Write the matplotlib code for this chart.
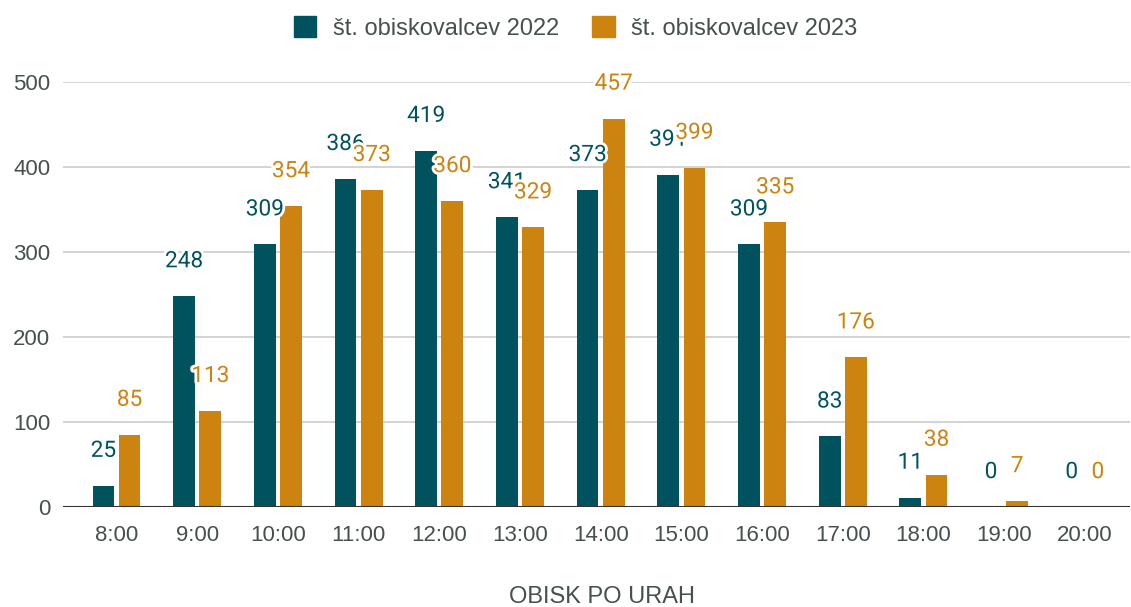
import matplotlib.pyplot as plt
import matplotlib.patheffects as pe
from matplotlib.patches import Patch
import numpy as np

hours = ["8:00", "9:00", "10:00", "11:00", "12:00", "13:00", "14:00",
         "15:00", "16:00", "17:00", "18:00", "19:00", "20:00"]
visitors_2022 = [25, 248, 309, 386, 419, 341, 373, 391, 309, 83, 11, 0, 0]
visitors_2023 = [85, 113, 354, 373, 360, 329, 457, 399, 335, 176, 38, 7, 0]
series_names = ["št. obiskovalcev 2022", "št. obiskovalcev 2023"]
colors = ["#00535E", "#CD8310"]
text_color = "#46504f"

fig = plt.figure(figsize=(11.31, 6.07), dpi=100)
ax = fig.add_axes([63 / 1131, 1 - 507 / 607, (1130 - 63) / 1131, 425 / 607])

x = np.arange(len(hours))
w = 0.27
off = 0.162
for i, (vals, c) in enumerate(zip([visitors_2022, visitors_2023], colors)):
    ax.bar(x + (2 * i - 1) * off, vals, width=w, color=c, zorder=3)

# value labels (2022 first, 2023 on top)
for i, (vals, c) in enumerate(zip([visitors_2022, visitors_2023], colors)):
    for xi, v in zip(x, vals):
        ax.annotate(str(v), (xi + (2 * i - 1) * off, v), xytext=(0, 25.5),
                    textcoords="offset points", ha="center", va="center",
                    fontsize=16.3, color=c, family="Roboto", zorder=5 + i,
                    annotation_clip=False,
                    path_effects=[pe.withStroke(linewidth=4, foreground="white")])

ax.set_xlim(-0.663, 12.56)
ax.set_ylim(0, 500)
ax.set_yticks(range(0, 501, 100))
ax.set_xticks(x)
ax.set_xticklabels(hours)
ax.grid(axis="y", color="#cccccc", linewidth=1.2, zorder=0)
ax.axhline(0, color="#333333", linewidth=1.5, zorder=4)
for s in ax.spines.values():
    s.set_visible(False)
ax.tick_params(axis="both", length=0, labelsize=16, labelcolor=text_color)
ax.tick_params(axis="x", pad=13)
ax.tick_params(axis="y", pad=9)
for lab in ax.get_xticklabels() + ax.get_yticklabels():
    lab.set_family("Liberation Sans")

fig.text(0.5325, 1 - 597 / 607, "OBISK PO URAH", ha="center", va="center",
         fontsize=17, color=text_color, family="Liberation Sans")

handles = [Patch(facecolor=c, edgecolor=c) for c in colors]
leg = fig.legend(handles, series_names, loc="center", bbox_to_anchor=(0.509, 1 - 28 / 607),
                 ncol=2, frameon=False, handlelength=0.95, handleheight=0.95,
                 handletextpad=0.7, columnspacing=1.4,
                 prop={"family": "Liberation Sans", "size": 17})
for t in leg.get_texts():
    t.set_color(text_color)

fig.savefig("out.png", dpi=100)
